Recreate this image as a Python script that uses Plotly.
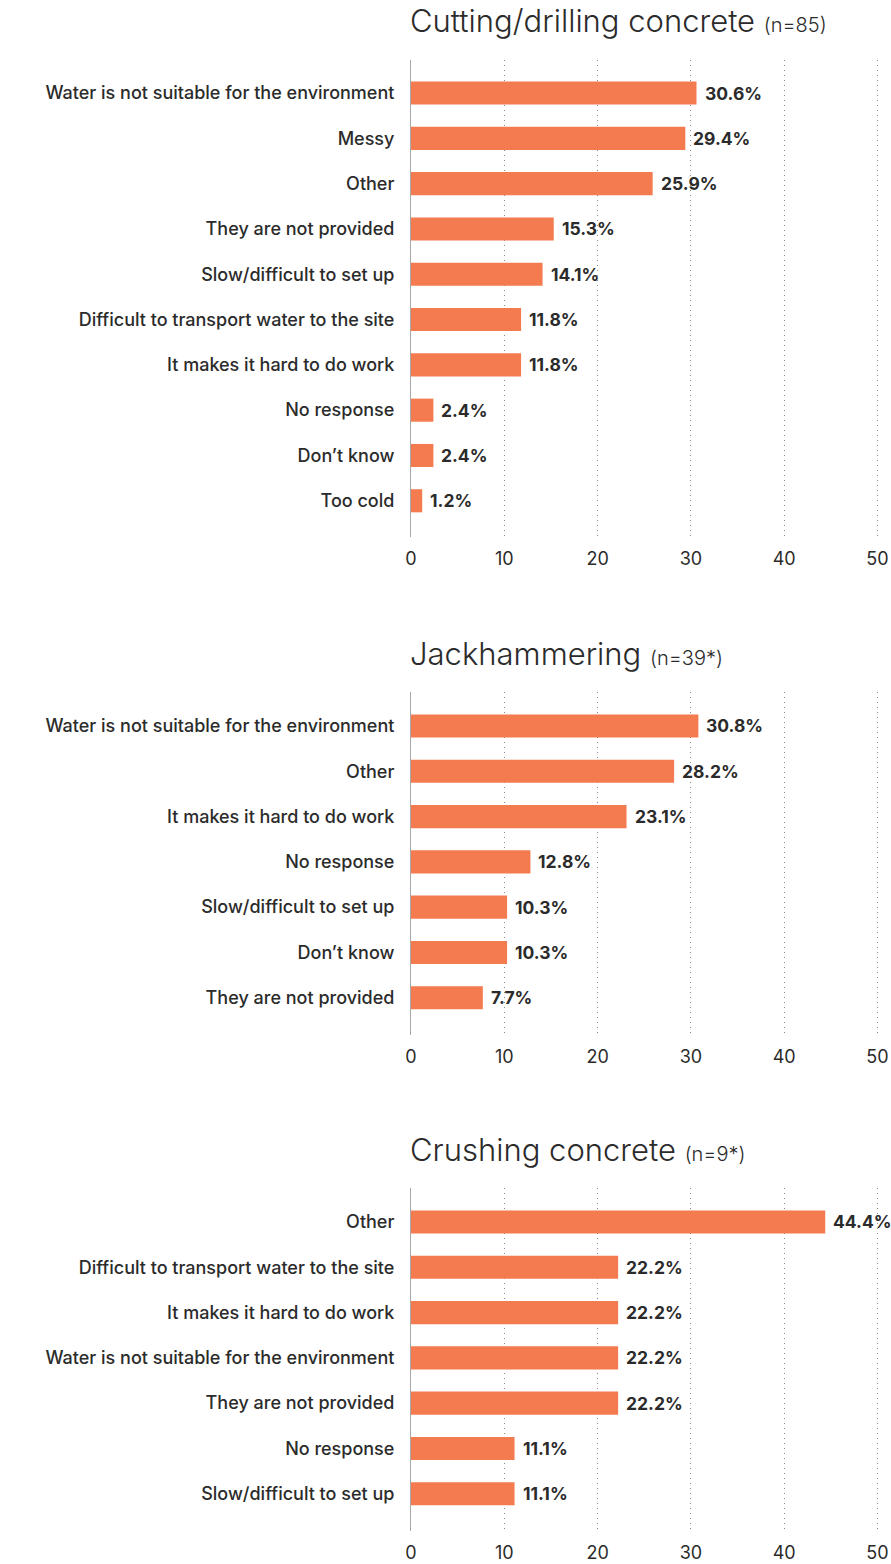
import plotly.graph_objects as go

# Survey results: reasons for not using water controls, by task
cut_labels = ["Water is not suitable for the environment", "Messy", "Other",
              "They are not provided", "Slow/difficult to set up",
              "Difficult to transport water to the site", "It makes it hard to do work",
              "No response", "Don’t know", "Too cold"]
cut_vals = [30.6, 29.4, 25.9, 15.3, 14.1, 11.8, 11.8, 2.4, 2.4, 1.2]

jack_labels = ["Water is not suitable for the environment", "Other",
               "It makes it hard to do work", "No response", "Slow/difficult to set up",
               "Don’t know", "They are not provided"]
jack_vals = [30.8, 28.2, 23.1, 12.8, 10.3, 10.3, 7.7]

crush_labels = ["Other", "Difficult to transport water to the site",
                "It makes it hard to do work", "Water is not suitable for the environment",
                "They are not provided", "No response", "Slow/difficult to set up"]
crush_vals = [44.4, 22.2, 22.2, 22.2, 22.2, 11.1, 11.1]

titles = ["Cutting/drilling concrete", "Jackhammering", "Crushing concrete"]
sample_sizes = ["(n=85)", "(n=39*)", "(n=9*)"]
x_ticks = [0, 10, 20, 30, 40, 50]

W, H = 891, 1564
BAR = "#F47B4F"
TXT = "#2B2B2B"
FONT = "Inter"

# panel extents in pixels from the top of the page
panels_px = [(60, 537), (692, 1035), (1188, 1531)]
pad_top = [0.73, 0.75, 0.75]

series = [(cut_labels, cut_vals), (jack_labels, jack_vals), (crush_labels, crush_vals)]

fig = go.Figure()
layout = dict(
    width=W, height=H,
    margin=dict(l=411, r=0, t=0, b=0),
    paper_bgcolor="white", plot_bgcolor="white",
    showlegend=False,
    font=dict(family=FONT, color=TXT),
)
annotations = []

for i, ((labels, vals), (top, bot)) in enumerate(zip(series, panels_px)):
    n = i + 1
    xa = "x" if n == 1 else f"x{n}"
    ya = "y" if n == 1 else f"y{n}"
    fig.add_trace(go.Bar(
        x=vals, y=labels, orientation="h",
        marker=dict(color=BAR, line=dict(width=0)),
        width=0.51, xaxis=xa, yaxis=ya, hoverinfo="skip",
    ))
    span = (bot - top) / 45.3
    rng_top = -pad_top[i]
    rng_bot = rng_top + span
    layout[f"xaxis{'' if n == 1 else n}"] = dict(
        domain=[0, 1], anchor=ya, range=[0, 480 / 9.33],
        tickvals=x_ticks, showgrid=True, gridcolor="#8A8A8A", griddash="1px,4px",
        gridwidth=1, zeroline=False, showline=False, ticks="",
        ticklabelstandoff=9,
        tickfont=dict(size=18, color=TXT, family=FONT),
    )
    layout[f"yaxis{'' if n == 1 else n}"] = dict(
        domain=[1 - bot / H, 1 - top / H], anchor=xa,
        type="category", categoryorder="array", categoryarray=labels,
        range=[rng_bot, rng_top], showgrid=False, zeroline=False,
        showline=True, linecolor="#A8A8A8", linewidth=1, ticks="",
        ticklabelstandoff=12,
        tickfont=dict(size=18, color=TXT, family=FONT, weight=500),
    )
    # value labels next to each bar
    for lab, v in zip(labels, vals):
        annotations.append(dict(
            x=v, y=lab, xref=xa, yref=ya, text=f"{v:.1f}%",
            showarrow=False, xanchor="left", yanchor="middle", xshift=6,
            font=dict(size=17.5, color=TXT, family=FONT, weight=700),
        ))
    # panel heading
    annotations.append(dict(
        x=0, xref="x domain" if n == 1 else f"x{n} domain",
        y=1 - (top - 39) / H, yref="paper", xshift=-3,
        text=f"{titles[i]} <span style='font-size:20px'>{sample_sizes[i]}</span>",
        showarrow=False, xanchor="left", yanchor="middle",
        font=dict(size=31, color=TXT, family=FONT, weight=300),
    ))

layout["annotations"] = annotations
fig.update_layout(**layout)
fig.write_html("out.html")
